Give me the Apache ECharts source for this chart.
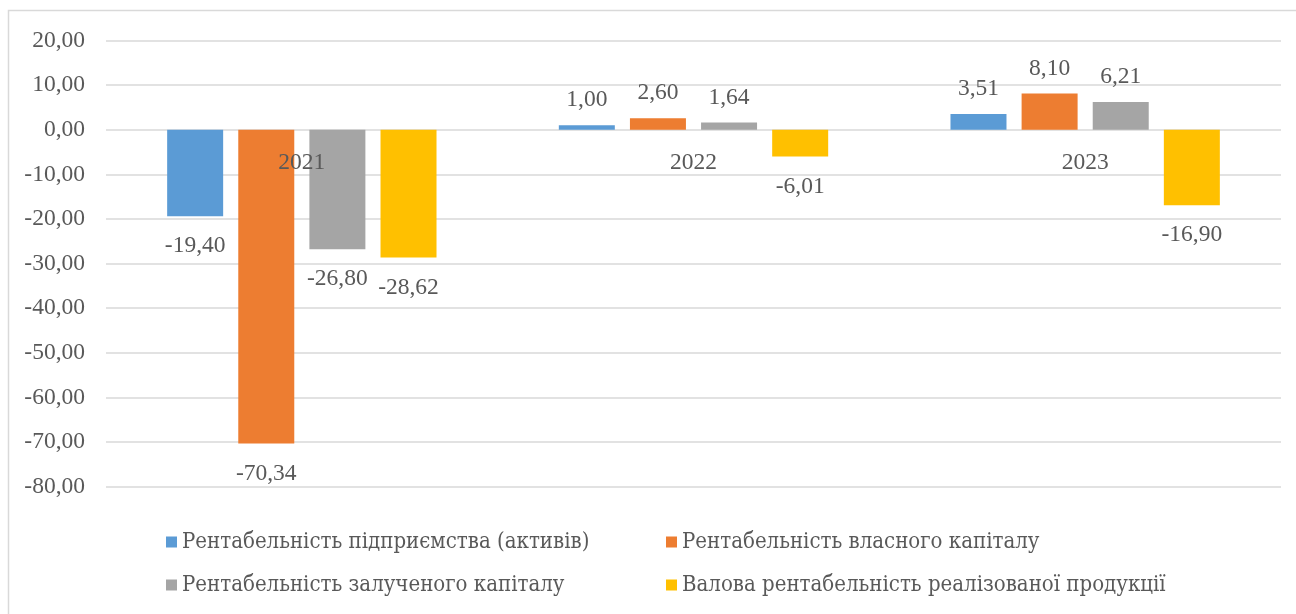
<!DOCTYPE html>
<html>
<head>
<meta charset="utf-8">
<script src="https://cdn.jsdelivr.net/npm/echarts@6/dist/echarts.min.js"></script>
<style>html,body{margin:0;padding:0;background:#fff}#c{width:1296px;height:614px}</style>
</head>
<body>
<div id="c"></div>
<script>
const categories = ['2021', '2022', '2023'];
const seriesNames = [
  'Рентабельність підприємства (активів)',
  'Рентабельність власного капіталу',
  'Рентабельність залученого капіталу',
  'Валова рентабельність реалізованої продукції'
];
const assetsROA = [-19.40, 1.00, 3.51];
const equityROE = [-70.34, 2.60, 8.10];
const borrowedROC = [-26.80, 1.64, 6.21];
const grossMargin = [-28.62, -6.01, -16.90];
const colors = ['#5B9BD5', '#ED7D31', '#A5A5A5', '#FFC000'];
const yTicks = { min: -80, max: 20, interval: 10 };

const FONT = 'Liberation Serif';
const LFONT = 'DejaVu Serif Condensed';
const TXT = '#595959';
const fmt = v => v.toFixed(2).replace('.', ',');
const allValues = [assetsROA, equityROE, borrowedROC, grossMargin];

const legendText = { fontFamily: LFONT, fontSize: 22, color: TXT };

const chart = echarts.init(document.getElementById('c'));
chart.setOption({
  animation: false,
  textStyle: { fontFamily: FONT },
  graphic: [{
    type: 'rect', z: -10,
    shape: { x: 8.5, y: 10.5, width: 1400, height: 800 },
    style: { fill: 'none', stroke: '#d9d9d9', lineWidth: 1.5 }
  }],
  grid: { left: 106, right: 15, top: 40.5, bottom: 127.3, containLabel: false },
  legend: [
    { data: [seriesNames[0], seriesNames[2]], orient: 'vertical', left: 161, top: 526, itemGap: 21,
      icon: 'rect', itemWidth: 11, itemHeight: 11, textStyle: legendText },
    { data: [seriesNames[1], seriesNames[3]], orient: 'vertical', left: 661, top: 526, itemGap: 21,
      icon: 'rect', itemWidth: 11, itemHeight: 11, textStyle: legendText }
  ],
  xAxis: {
    type: 'category', data: categories, z: 10,
    offset: -356.7,
    axisLine: { show: false },
    axisTick: { show: false },
    axisLabel: { fontFamily: FONT, fontSize: 23.5, color: TXT, margin: 21 }
  },
  yAxis: {
    type: 'value', min: yTicks.min, max: yTicks.max, interval: yTicks.interval,
    axisLine: { show: false }, axisTick: { show: false },
    splitLine: { lineStyle: { color: '#d9d9d9', width: 1.5 } },
    axisLabel: { fontFamily: FONT, fontSize: 23.5, color: TXT, margin: 21, formatter: fmt }
  },
  series: allValues.map((vals, i) => ({
    name: seriesNames[i], type: 'bar', barWidth: 56, barGap: '27%',
    itemStyle: { color: colors[i] },
    data: vals.map(v => ({
      value: v,
      label: { position: v < 0 ? 'bottom' : 'top', distance: v < 0 ? 18 : 13 }
    })),
    label: { show: true, fontFamily: FONT, fontSize: 23.5, color: TXT,
      formatter: p => fmt(p.value) }
  }))
});
</script>
</body>
</html>
